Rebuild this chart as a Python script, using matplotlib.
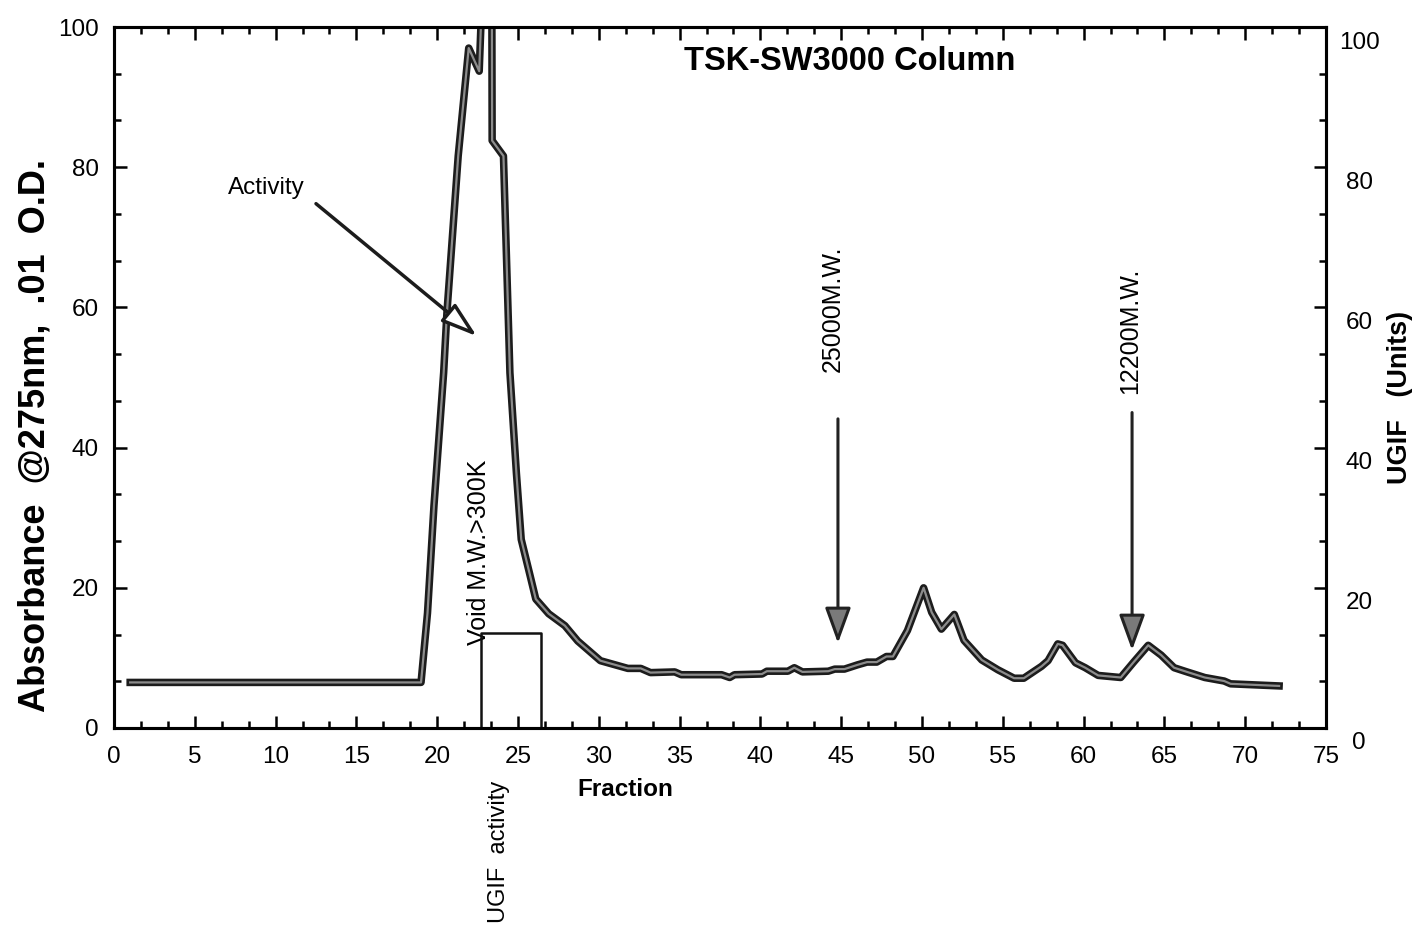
import matplotlib
matplotlib.use('Agg')
import matplotlib.pyplot as plt
import matplotlib.patheffects as pe
from matplotlib.ticker import MultipleLocator
from matplotlib.transforms import ScaledTranslation

plt.rcParams['font.family'] = ['Liberation Sans', 'DejaVu Sans']

# absorbance trace
fraction = [1.0, 19.0, 19.4, 19.8, 20.4, 20.6, 21.3, 21.95, 22.6, 23.35, 23.4,
            24.1, 24.5, 24.9, 25.2, 25.7, 26.1, 26.9, 27.9, 28.7, 30.1, 31.8,
            32.6, 33.2, 34.7, 35.1, 37.6, 38.1, 38.4, 40.1, 40.4, 41.7, 42.1,
            42.6, 44.2, 44.6, 45.2, 46.0, 46.6, 47.2, 47.8, 48.2, 49.1, 50.1,
            50.6, 51.2, 52.0, 52.6, 53.7, 54.7, 55.7, 56.3, 57.4, 57.8, 58.4,
            58.7, 59.5, 60.1, 60.9, 62.3, 63.1, 64.0, 64.8, 65.6, 66.4, 67.5,
            68.7, 69.1, 72.1]
absorbance = [6.5, 6.5, 16.4, 31.7, 50.7, 59.2, 81.6, 97.0, 93.7, 140.0, 83.8,
              81.6, 50.7, 36.4, 26.9, 22.2, 18.4, 16.3, 14.6, 12.4, 9.6, 8.5,
              8.5, 7.9, 8.0, 7.6, 7.6, 7.2, 7.6, 7.7, 8.1, 8.1, 8.6,
              8.0, 8.1, 8.4, 8.4, 9.0, 9.4, 9.4, 10.2, 10.2, 13.9, 20.0,
              16.5, 14.1, 16.2, 12.5, 9.7, 8.3, 7.1, 7.1, 8.8, 9.6, 12.0,
              11.8, 9.3, 8.6, 7.5, 7.2, 9.4, 11.8, 10.4, 8.6, 8.0, 7.2,
              6.7, 6.3, 6.0]

# UGIF activity (right axis)
activity_fraction = [22.7, 22.7, 26.4, 26.4]
activity_units = [0, 13.6, 13.6, 0]

x_ticks = list(range(0, 80, 5))
y_ticks = [0, 20, 40, 60, 80, 100]

fig = plt.figure(figsize=(14.18, 9.32), dpi=100)
ax = fig.add_axes([0.0804, 0.2189, 0.8547, 0.7521])
ax2 = ax.twinx()

ax.plot(fraction, absorbance, color='#8c8c8c', lw=1.6, solid_joinstyle='round',
        path_effects=[pe.Stroke(linewidth=5.4, foreground='#1c1c1c'), pe.Normal()])
ax2.plot(activity_fraction, activity_units, color='#111111', lw=1.8)

ax.set_xlim(0, 75)
ax.set_ylim(0, 100)
ax2.set_ylim(0, 100)

for a in (ax, ax2):
    for s in a.spines.values():
        s.set_linewidth(2.2)

ax.set_xticks(x_ticks)
ax.set_yticks(y_ticks)
ax.xaxis.set_minor_locator(MultipleLocator(5 / 3))
ax.yaxis.set_minor_locator(MultipleLocator(20 / 3))
ax.tick_params(axis='x', which='both', direction='in', top=True, width=1.8,
               labelsize=17.5, pad=13)
ax.tick_params(axis='y', which='both', direction='in', right=False, width=1.8,
               labelsize=17.5, pad=11)
ax.tick_params(which='major', length=9)
ax.tick_params(which='minor', length=5)

ax2.set_yticks(y_ticks)
ax2.yaxis.set_minor_locator(MultipleLocator(20 / 3))
ax2.tick_params(axis='y', which='both', direction='in', width=1.8,
                labelsize=17.5, pad=24)
ax2.tick_params(which='major', length=9)
ax2.tick_params(which='minor', length=5)
shift = ScaledTranslation(0, -0.13, fig.dpi_scale_trans)
for lbl in ax2.get_yticklabels():
    lbl.set_horizontalalignment('center')
    lbl.set_transform(lbl.get_transform() + shift)

ax.set_xlabel('Fraction', fontsize=17.5, fontweight='bold')
ax.xaxis.set_label_coords(0.422, -0.072)

fig.text(0.025, 1 - 436 / 932, 'Absorbance  @275nm,  .01  O.D.', rotation=90,
         fontsize=26, fontweight='bold', ha='center', va='center')
fig.text(0.987, 1 - 397 / 932, 'UGIF   (Units)', rotation=90,
         fontsize=19.5, fontweight='bold', ha='center', va='center')

ax.text(0.607, 0.951, 'TSK-SW3000 Column', transform=ax.transAxes,
        fontsize=23.5, fontweight='bold', ha='center', va='center')

# annotations
ax.text(9.4, 77.0, 'Activity', fontsize=17.5, ha='center', va='center')
ax.annotate('', xy=(22.45, 55.9), xytext=(12.5, 74.8),
            arrowprops=dict(arrowstyle='-|>,head_length=2.2,head_width=0.7',
                            mutation_scale=10, fc='white', ec='#1c1c1c', lw=2.5,
                            shrinkA=0, shrinkB=0))

ax.text(22.6, 25.0, 'Void M.W.>300K', rotation=90, fontsize=18,
        ha='center', va='center')

ax.text(44.5, 59.8, '25000M.W.', rotation=90, fontsize=18, ha='center', va='center')
ax.annotate('', xy=(44.8, 12.1), xytext=(44.8, 44.1),
            arrowprops=dict(arrowstyle='-|>,head_length=2.2,head_width=0.8',
                            mutation_scale=10, fc='#7a7a7a', ec='#222222', lw=2.2,
                            shrinkA=0, shrinkB=0))

ax.text(62.9, 56.7, '12200M.W.', rotation=90, fontsize=18, ha='center', va='center')
ax.annotate('', xy=(63.0, 11.1), xytext=(63.0, 45.0),
            arrowprops=dict(arrowstyle='-|>,head_length=2.2,head_width=0.8',
                            mutation_scale=10, fc='#7a7a7a', ec='#222222', lw=2.2,
                            shrinkA=0, shrinkB=0))

ax.annotate('UGIF  activity', xy=(23.8, 1 - 852 / 932),
            xycoords=('data', 'figure fraction'), rotation=90, fontsize=17,
            ha='center', va='center', annotation_clip=False)

fig.savefig('out.png', dpi=100)
